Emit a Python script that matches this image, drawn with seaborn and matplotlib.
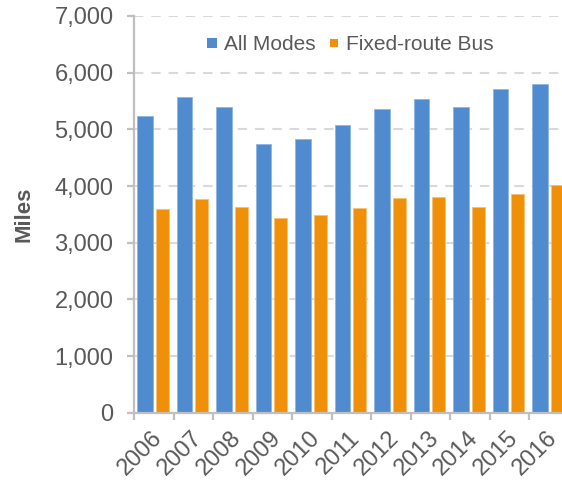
import matplotlib
matplotlib.use("Agg")
import matplotlib.pyplot as plt
import matplotlib.transforms as mtransforms
import seaborn as sns
import pandas as pd
from matplotlib.lines import Line2D

years = ["2006", "2007", "2008", "2009", "2010", "2011", "2012", "2013", "2014", "2015", "2016"]
all_modes = [5233, 5568, 5392, 4734, 4822, 5079, 5351, 5527, 5386, 5709, 5792]
fixed_route_bus = [3587, 3769, 3622, 3428, 3487, 3605, 3781, 3799, 3628, 3862, 4021]
series_names = ["All Modes", "Fixed-route Bus"]
y_ticks = [0, 1000, 2000, 3000, 4000, 5000, 6000, 7000]

colors = ["#508BCF", "#F08F08"]
edge_colors = ["#8FB5E3", "#F7BF70"]
text_color = "#595959"
axis_color = "#BFBFBF"
grid_color = "#D9D9D9"

df = pd.DataFrame({
    "Year": years * 2,
    "Miles": all_modes + fixed_route_bus,
    "Series": [series_names[0]] * len(years) + [series_names[1]] * len(years),
})

sns.set_theme(style="white")
plt.rcParams["font.family"] = ["Liberation Sans", "DejaVu Sans"]

fig = plt.figure(figsize=(5.62, 4.82), dpi=100)
ax = fig.add_axes([134.3 / 562, 1 - 412.7 / 482, 434.5 / 562, 396.7 / 482])

sns.barplot(data=df, x="Year", y="Miles", hue="Series", hue_order=series_names,
            palette=colors, width=0.8, dodge=True, ax=ax, legend=False,
            saturation=1, errorbar=None)

# Adjust bar geometry (Excel-like gap)
for p in ax.containers[0]:
    c = p.get_x() + p.get_width()
    p.set_x(c - 0.424)
    p.set_width(0.39)
    p.set_edgecolor(edge_colors[0])
    p.set_linewidth(0.6)
for p in ax.containers[1]:
    c = p.get_x()
    p.set_x(c + 0.042)
    p.set_width(0.336)
    p.set_edgecolor(edge_colors[1])
    p.set_linewidth(0.6)

ax.set_xlim(-0.5, len(years) - 0.5)
ax.set_ylim(0, 7000)
ax.set_yticks(y_ticks)
ax.set_yticklabels([f"{v:,}" for v in y_ticks])

for v in y_ticks[1:]:
    ax.axhline(v, color=grid_color, linewidth=1.5, linestyle=(0, (4.5, 3.8)), zorder=0)

for s in ["top", "right"]:
    ax.spines[s].set_visible(False)
for s in ["left", "bottom"]:
    ax.spines[s].set_color(axis_color)
    ax.spines[s].set_linewidth(1.6)
    ax.spines[s].set_zorder(5)

ax.tick_params(axis="y", direction="out", length=5, width=1.6, color=axis_color,
               labelsize=17, labelcolor=text_color, pad=10, left=True)
ax.set_xticks(range(len(years)))
ax.set_xticks([i - 0.5 for i in range(len(years) + 1)], minor=True)
ax.tick_params(axis="x", which="major", length=0, labelsize=17, labelcolor=text_color, pad=6)
ax.tick_params(axis="x", which="minor", direction="out", length=5, width=1.6, color=axis_color, bottom=True)
offset = mtransforms.ScaledTranslation(0.05, -0.14, fig.dpi_scale_trans)
for lbl in ax.get_xticklabels():
    lbl.set_rotation(45)
    lbl.set_ha("right")
    lbl.set_va("center")
    lbl.set_rotation_mode("anchor")
    lbl.set_transform(lbl.get_transform() + offset)

ax.set_xlabel("")
ax.set_ylabel("Miles", fontsize=16, fontweight="bold", color=text_color, labelpad=14)

handles = [
    Line2D([], [], marker="s", linestyle="none", markersize=7.2, color=colors[0], markeredgewidth=0),
    Line2D([], [], marker="s", linestyle="none", markersize=5.8, color=colors[1], markeredgewidth=0),
]
leg = ax.legend(handles, series_names, loc="center", bbox_to_anchor=(0.496, 0.927), ncol=2,
                frameon=False, fontsize=15, handlelength=0.6, handletextpad=0.25,
                columnspacing=0.6, borderpad=0)
for t in leg.get_texts():
    t.set_color(text_color)

fig.savefig("out.png", dpi=100)
